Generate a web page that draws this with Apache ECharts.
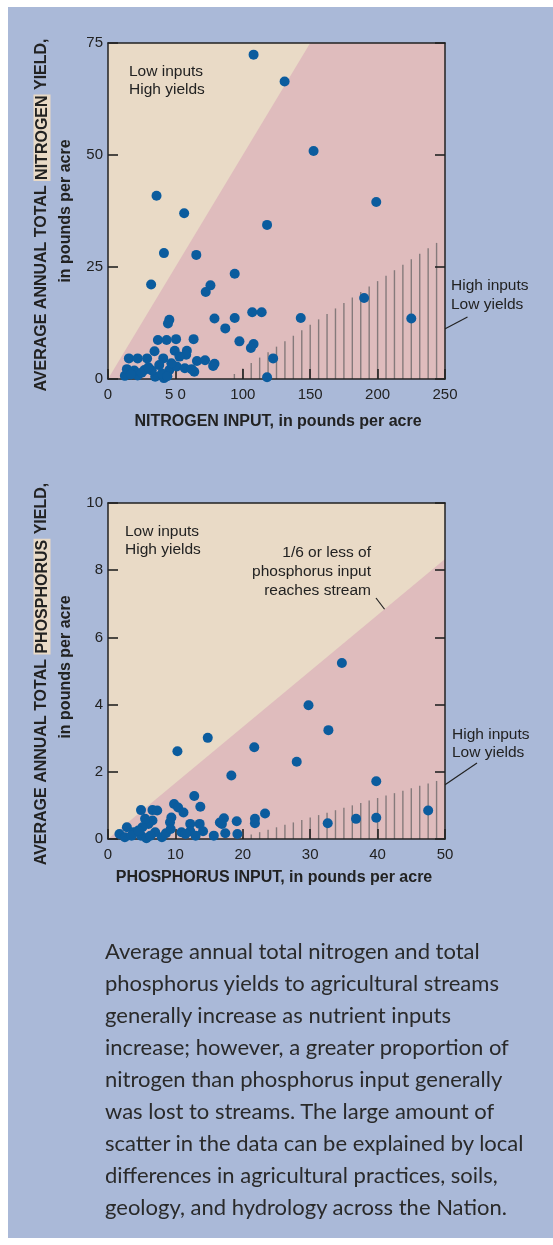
<!DOCTYPE html>
<html>
<head>
<meta charset="utf-8">
<script src="https://cdn.jsdelivr.net/npm/echarts/dist/echarts.min.js"></script>
<style>
  html, body { margin: 0; padding: 0; background: #ffffff; }
  #page { position: relative; width: 553px; height: 1245px; overflow: hidden; }
  #panel { position: absolute; left: 8px; top: 7px; right: 0; bottom: 7px; background: #aab9d8; }
  #chart { position: absolute; left: 0; top: 0; width: 553px; height: 1245px; }
  #caption { position: absolute; left: 105px; top: 935px; width: 445px;
    font-family: Lato, "Noto Sans", sans-serif; font-size: 22px; line-height: 32px; color: #2a2a2a; white-space: nowrap; }
</style>
</head>
<body>
<div id="page">
  <div id="panel"></div>
  <div id="chart"></div>
  <div id="caption">Average annual total nitrogen and total<br>phosphorus yields to agricultural streams<br>generally increase as nutrient inputs<br>increase; however, a greater proportion of<br>nitrogen than phosphorus input generally<br>was lost to streams. The large amount of<br>scatter in the data can be explained by local<br>differences in agricultural practices, soils,<br>geology, and hydrology across the Nation.</div>
</div>
<script>
// ---------------- DATA ----------------
// Nitrogen: [input, yield] in pounds per acre
const nitrogenPoints = [
  [108, 72.4], [131, 66.4], [152.5, 50.9], [199, 39.5], [36, 40.9], [56.5, 37.0],
  [118, 34.4], [41.5, 28.1], [65.5, 27.7], [94, 23.5], [32, 21.1], [76, 20.9],
  [72.5, 19.4], [190, 18.1], [107, 14.9], [114, 14.9], [79, 13.5], [94, 13.6],
  [143, 13.6], [225, 13.5], [45.5, 13.2], [44.5, 12.4], [87, 11.3], [97.5, 8.4],
  [108, 7.8], [106, 6.9], [63.5, 8.9], [37, 8.7], [43.5, 8.7], [50.5, 8.9],
  [122.5, 4.6], [118, 0.4], [34.5, 6.2], [49.5, 6.3], [58.5, 6.3], [58, 5.4],
  [15.5, 4.6], [22, 4.6], [29, 4.6], [41, 4.6], [66, 4.0], [72, 4.2],
  [79, 3.4], [78, 2.9], [12.5, 0.7], [14, 2.2], [22, 0.8], [27, 2.0],
  [35, 0.5], [41.5, 0.2], [38, 3.1], [45.5, 2.0], [51, 2.8], [57, 2.4],
  [64, 1.6], [32.5, 1.9], [19.5, 1.9], [47, 3.5], [53, 5.0], [40, 1.2],
  [25, 1.4], [30, 2.6], [62, 2.2], [17, 1.0], [44, 0.6]
];
// Phosphorus: [input, yield] in pounds per acre
const phosphorusPoints = [
  [34.7, 5.24], [29.75, 3.98], [32.7, 3.24], [14.8, 3.01], [10.3, 2.61], [21.7, 2.73],
  [28.0, 2.30], [18.3, 1.89], [39.8, 1.72], [47.5, 0.85], [32.6, 0.47], [36.8, 0.60],
  [39.8, 0.63], [12.8, 1.28], [13.7, 0.96], [9.8, 1.04], [10.4, 0.94], [11.2, 0.79],
  [4.9, 0.86], [6.6, 0.86], [7.3, 0.85], [9.4, 0.64], [9.2, 0.5], [23.3, 0.76],
  [21.8, 0.6], [21.8, 0.47], [17.2, 0.62], [16.6, 0.49], [19.1, 0.53], [19.2, 0.15],
  [17.4, 0.17], [15.7, 0.1], [12.2, 0.45], [13.6, 0.45], [12.2, 0.23], [14.1, 0.23],
  [10.9, 0.2], [6.6, 0.55], [6.0, 0.45], [5.1, 0.35], [2.8, 0.35], [1.7, 0.15],
  [2.5, 0.05], [3.8, 0.2], [4.9, 0.1], [5.7, 0.02], [7.0, 0.2], [8.0, 0.05],
  [8.6, 0.17], [9.3, 0.3], [3.5, 0.1], [4.5, 0.25], [6.3, 0.1], [11.5, 0.15],
  [13.0, 0.1], [5.5, 0.6], [16.9, 0.45]
];
// Tick labels
const nitrogenXTicks = ['0', '5 0', '100', '150', '200', '250'];
const nitrogenYTicks = ['0', '25', '50', '75'];
const phosphorusXTicks = ['0', '10', '20', '30', '40', '50'];
const phosphorusYTicks = ['0', '2', '4', '6', '8', '10'];
// Region shapes (data space): area where yield <= ratio * input
const nitrogenRatioRegion = [[0, 0], [150, 75], [250, 75], [250, 0]];
const phosphorusRatioRegion = [[0, 0], [50, 8.333], [50, 0]];
// "High inputs / Low yields" hatched zone envelope (data space)
const nitrogenHatchEdge = [[88, 0], [250, 31.6]];
const phosphorusHatchEdge = [[19, 0], [50, 1.8]];
const nitrogenHatchStep = 6.25;
const phosphorusHatchStep = 1.25;

// ---------------- STYLE ----------------
const INK = '#222222';
const BEIGE = '#e9dac6';
const PINK = '#dfbcbd';
const DOT = '#0b5c9e';
const HATCH = '#857a7b';
const FONT = '"Liberation Sans", Arial, sans-serif';

function hatchXs(edge, step, max) {
  const xs = [];
  const start = Math.ceil(edge[0][0] / step) * step;
  for (let x = start; x < max - 1e-9; x += step) xs.push([x, 0]);
  return xs;
}
function edgeAt(edge, x) {
  const a = edge[0], b = edge[1];
  return a[1] + (b[1] - a[1]) * (x - a[0]) / (b[0] - a[0]);
}

const axLine = { show: true, onZero: false, lineStyle: { color: INK, width: 1.5 } };
const axTick = { show: true, inside: true, length: 10, lineStyle: { color: INK, width: 1.6 } };
function labelStyle(ticks) {
  return { show: true, color: INK, fontSize: 15, fontFamily: FONT, margin: 8,
           formatter: (v, i) => ticks[i] };
}

function xAxes(grid, max, interval, ticks) {
  return [
    { gridIndex: grid, type: 'value', position: 'bottom', min: 0, max: max, interval: interval,
      axisLine: axLine, axisTick: axTick, axisLabel: labelStyle(ticks), splitLine: { show: false }, z: 3 },
    { gridIndex: grid, type: 'value', position: 'top', min: 0, max: max, interval: interval,
      axisLine: axLine, axisTick: { show: false }, axisLabel: { show: false }, splitLine: { show: false }, z: 3 }
  ];
}
function yAxes(grid, max, interval, ticks) {
  return [
    { gridIndex: grid, type: 'value', position: 'left', min: 0, max: max, interval: interval,
      axisLine: axLine, axisTick: axTick, axisLabel: Object.assign(labelStyle(ticks), { margin: 5 }),
      splitLine: { show: false }, z: 3 },
    { gridIndex: grid, type: 'value', position: 'right', min: 0, max: max, interval: interval,
      axisLine: axLine, axisTick: axTick, axisLabel: { show: false }, splitLine: { show: false }, z: 3 }
  ];
}

function regionSeries(xi, yi, region) {
  return {
    type: 'custom', xAxisIndex: xi, yAxisIndex: yi, silent: true, z: 1,
    data: [[0, 0]],
    renderItem: function (params, api) {
      return { type: 'polygon', shape: { points: region.map(p => api.coord(p)) },
               style: { fill: PINK } };
    }
  };
}
function hatchSeries(xi, yi, edge, step, max) {
  return {
    type: 'custom', xAxisIndex: xi, yAxisIndex: yi, silent: true, z: 1,
    data: hatchXs(edge, step, max),
    renderItem: function (params, api) {
      const x = api.value(0);
      const p0 = api.coord([x, 0]);
      const p1 = api.coord([x, edgeAt(edge, x)]);
      return { type: 'line', shape: { x1: p0[0], y1: p0[1], x2: p1[0], y2: p1[1] },
               style: { stroke: HATCH, lineWidth: 1.4 } };
    }
  };
}
function scatterSeries(xi, yi, pts) {
  return { type: 'scatter', xAxisIndex: xi, yAxisIndex: yi, data: pts, symbolSize: 10,
           itemStyle: { color: DOT, opacity: 1 }, z: 4, silent: true };
}

function annot(x, y, text, align, lh) {
  return { type: 'text', x: x, y: y, silent: true,
    style: { text: text, fill: INK, font: '15.5px ' + FONT, align: align || 'left',
             verticalAlign: 'top', lineHeight: lh || 18.7 } };
}
function leader(x1, y1, x2, y2) {
  return { type: 'line', silent: true, shape: { x1: x1, y1: y1, x2: x2, y2: y2 },
           style: { stroke: INK, lineWidth: 1.2 } };
}
function yTitle(x, y, pre, hi, post) {
  const base = { fill: INK, fontFamily: FONT, fontSize: 16, fontWeight: 'bold' };
  return { type: 'text', x: x, y: y, rotation: Math.PI / 2, silent: true,
    style: { text: '{a|' + pre + '}{h|' + hi + '}{a|' + post + '}', align: 'center', verticalAlign: 'middle',
      rich: { a: base, h: Object.assign({}, base, { backgroundColor: BEIGE, padding: [1, 1, 0, 1] }) } } };
}
function plainTitle(x, y, text, rot) {
  return { type: 'text', x: x, y: y, rotation: rot || 0, silent: true,
    style: { text: text, fill: INK, font: 'bold 16px ' + FONT, align: 'center', verticalAlign: 'middle' } };
}

const chart = echarts.init(document.getElementById('chart'), null, { renderer: 'canvas' });
chart.setOption({
  animation: false,
  backgroundColor: 'transparent',
  grid: [
    { left: 108, top: 43, width: 337, height: 336, show: true, backgroundColor: BEIGE, borderWidth: 0 },
    { left: 108, top: 503, width: 337, height: 336, show: true, backgroundColor: BEIGE, borderWidth: 0 }
  ],
  xAxis: [].concat(xAxes(0, 250, 50, nitrogenXTicks), xAxes(1, 50, 10, phosphorusXTicks)),
  yAxis: [].concat(yAxes(0, 75, 25, nitrogenYTicks), yAxes(1, 10, 2, phosphorusYTicks)),
  series: [
    regionSeries(0, 0, nitrogenRatioRegion),
    hatchSeries(0, 0, nitrogenHatchEdge, nitrogenHatchStep, 250),
    scatterSeries(0, 0, nitrogenPoints),
    regionSeries(2, 2, phosphorusRatioRegion),
    hatchSeries(2, 2, phosphorusHatchEdge, phosphorusHatchStep, 50),
    scatterSeries(2, 2, phosphorusPoints)
  ],
  graphic: [
    // Nitrogen panel
    annot(129, 62, 'Low inputs\nHigh yields', 'left', 18.5),
    annot(325, 73, '1/2 or less of\nnitrogen input\nreaches stream', 'left', 18.7),
    annot(451, 276, 'High inputs\nLow yields', 'left', 19),
    leader(467.5, 317, 401, 352),
    yTitle(42, 215, 'AVERAGE ANNUAL TOTAL ', 'NITROGEN', ' YIELD,'),
    plainTitle(66, 211, 'in pounds per acre', Math.PI / 2),
    plainTitle(278, 421.5, 'NITROGEN INPUT, in pounds per acre'),
    // Phosphorus panel
    annot(125, 522, 'Low inputs\nHigh yields', 'left', 18.5),
    annot(371, 543, '1/6 or less of\nphosphorus input\nreaches stream', 'right', 19),
    leader(376, 598, 392, 619),
    annot(452, 725, 'High inputs\nLow yields', 'left', 18.7),
    leader(477, 763, 427, 797),
    yTitle(42, 674, 'AVERAGE ANNUAL TOTAL ', 'PHOSPHORUS', ' YIELD,'),
    plainTitle(66, 667, 'in pounds per acre', Math.PI / 2),
    plainTitle(274, 878, 'PHOSPHORUS INPUT, in pounds per acre')
  ]
});
</script>
</body>
</html>
